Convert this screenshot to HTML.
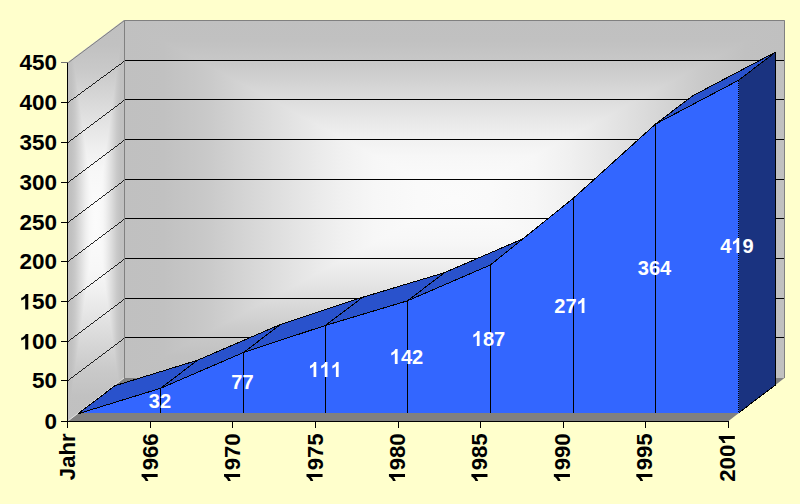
<!DOCTYPE html>
<html><head><meta charset="utf-8"><title>Chart</title>
<style>
html,body{margin:0;padding:0;}
body{width:800px;height:504px;background:#FFFFCC;overflow:hidden;font-family:"Liberation Sans",sans-serif;}
svg{display:block;}
text{font-family:"Liberation Sans",sans-serif;font-weight:bold;font-size:100px;font-kerning:none;}
</style></head><body>
<svg width="800" height="504" viewBox="0 0 800 504">
<defs>
<linearGradient id="gl" x1="0" y1="0" x2="1" y2="0"><stop offset="0" stop-color="#C0C0C0"/><stop offset="0.06" stop-color="#C1C1C1"/><stop offset="0.125" stop-color="#C9C9C9"/><stop offset="0.225" stop-color="#DDDDDD"/><stop offset="0.275" stop-color="#E7E7E7"/><stop offset="0.325" stop-color="#F0F0F0"/><stop offset="0.38" stop-color="#F7F7F7"/><stop offset="0.445" stop-color="#FAFAFA"/><stop offset="0.5" stop-color="#FBFBFB"/><stop offset="0.555" stop-color="#FAFAFA"/><stop offset="0.62" stop-color="#F7F7F7"/><stop offset="0.675" stop-color="#F0F0F0"/><stop offset="0.725" stop-color="#E7E7E7"/><stop offset="0.775" stop-color="#DDDDDD"/><stop offset="0.875" stop-color="#C9C9C9"/><stop offset="0.94" stop-color="#C1C1C1"/><stop offset="1" stop-color="#C0C0C0"/></linearGradient>
<linearGradient id="gt" x1="0" y1="0" x2="0" y2="1"><stop offset="0" stop-color="#C0C0C0"/><stop offset="0.12" stop-color="#C1C1C1"/><stop offset="0.25" stop-color="#C9C9C9"/><stop offset="0.45" stop-color="#DDDDDD"/><stop offset="0.55" stop-color="#E7E7E7"/><stop offset="0.65" stop-color="#F0F0F0"/><stop offset="0.76" stop-color="#F7F7F7"/><stop offset="0.89" stop-color="#FAFAFA"/><stop offset="1" stop-color="#FBFBFB"/></linearGradient>
<linearGradient id="gb" x1="0" y1="1" x2="0" y2="0"><stop offset="0" stop-color="#C0C0C0"/><stop offset="0.12" stop-color="#C1C1C1"/><stop offset="0.25" stop-color="#C9C9C9"/><stop offset="0.45" stop-color="#DDDDDD"/><stop offset="0.55" stop-color="#E7E7E7"/><stop offset="0.65" stop-color="#F0F0F0"/><stop offset="0.76" stop-color="#F7F7F7"/><stop offset="0.89" stop-color="#FAFAFA"/><stop offset="1" stop-color="#FBFBFB"/></linearGradient>
<clipPath id="lwc"><polygon points="68,62 124,20 124,378 68,421"/></clipPath>
</defs>
<rect width="800" height="504" fill="#FFFFCC"/>

<g id="backwall">
<rect x="124" y="20" width="661" height="358" fill="url(#gl)"/>
<polygon points="124.0,20.0 785.0,20.0 454.5,199.0" fill="url(#gt)"/>
<polygon points="124.0,378.0 785.0,378.0 454.5,199.0" fill="url(#gb)"/>
</g>
<g id="leftwall" clip-path="url(#lwc)">
<rect x="68" y="20" width="56" height="401" fill="url(#gl)"/>
<polygon points="68.0,20.0 124.0,20.0 96.0,220.5" fill="url(#gt)"/>
<polygon points="68.0,421.0 124.0,421.0 96.0,220.5" fill="url(#gb)"/>
</g>
<polygon points="68.0,421.0 728.5,421.0 784.5,378.0 124.0,378.0" fill="#808080"/>
<line x1="68.5" y1="420.5" x2="124" y2="378" stroke="#E4E4E4" stroke-width="1"/>
<g stroke="#000" stroke-width="1" fill="none" shape-rendering="crispEdges">
<path d="M124 337.5 L785 337.5"/>
<path d="M68 380.5 L124 338.5" stroke-width="0.85"/>
<path d="M124 298.5 L785 298.5"/>
<path d="M68 341.5 L124 299.5" stroke-width="0.85"/>
<path d="M124 258.5 L785 258.5"/>
<path d="M68 301.5 L124 259.5" stroke-width="0.85"/>
<path d="M124 218.5 L785 218.5"/>
<path d="M68 261.5 L124 219.5" stroke-width="0.85"/>
<path d="M124 179.5 L785 179.5"/>
<path d="M68 222.5 L124 180.5" stroke-width="0.85"/>
<path d="M124 139.5 L785 139.5"/>
<path d="M68 182.5 L124 140.5" stroke-width="0.85"/>
<path d="M124 99.5 L785 99.5"/>
<path d="M68 142.5 L124 100.5" stroke-width="0.85"/>
<path d="M124 60.5 L785 60.5"/>
<path d="M68 102.5 L124 61.5" stroke-width="0.85"/>
</g>
<g stroke="#808080" stroke-width="1" fill="none">
<path d="M124.5 378 V20.5 H784.5 V378"/>
<path d="M68.5 62.5 L124.5 20.5"/>
</g>
<g stroke="#000" stroke-width="1" stroke-linejoin="round" shape-rendering="crispEdges">
<polygon points="77.9,413.8 160.5,388.3 197.6,360.2 115.0,385.7" fill="#2952CC"/>
<polygon points="160.5,388.3 243.5,352.5 280.6,324.4 197.6,360.2" fill="#2952CC"/>
<polygon points="243.5,352.5 325.5,325.4 362.6,297.3 280.6,324.4" fill="#2952CC"/>
<polygon points="325.5,325.4 407.5,300.8 444.6,272.6 362.6,297.3" fill="#2952CC"/>
<polygon points="407.5,300.8 490.5,264.9 527.5,236.8 444.6,272.6" fill="#2952CC"/>
<polygon points="490.5,264.9 573.5,198.1 610.5,169.9 527.5,236.8" fill="#2952CC"/>
<polygon points="573.5,198.1 655.5,124.1 692.5,95.9 610.5,169.9" fill="#2952CC"/>
<polygon points="655.5,124.1 738.5,80.3 775.5,52.1 692.5,95.9" fill="#2952CC"/>
<polygon points="738.5,80.3 775.5,52.1 775.5,384.9 738.5,413.0" fill="#1A3380" stroke="none"/>
<polyline points="738.5,80.3 775.5,52.1 775.5,384.9 738.5,413.0" fill="none"/>
<polygon points="77.9,413.8 160.5,388.3 243.5,352.5 325.5,325.4 407.5,300.8 490.5,264.9 573.5,198.1 655.5,124.1 738.5,80.3 738.5,413.0 77.9,413.0" fill="#3366FF" stroke="none"/>
<polyline points="77.9,413.8 160.5,388.3 243.5,352.5 325.5,325.4 407.5,300.8 490.5,264.9 573.5,198.1 655.5,124.1 738.5,80.3" fill="none"/>
<line x1="738.5" y1="81.0" x2="738.5" y2="413.0" stroke-dasharray="1 1" stroke-width="1"/>
<line x1="160.5" y1="388.3" x2="160.5" y2="413.0" stroke-width="1"/>
<line x1="243.5" y1="352.5" x2="243.5" y2="413.0" stroke-width="1"/>
<line x1="325.5" y1="325.4" x2="325.5" y2="413.0" stroke-width="1"/>
<line x1="407.5" y1="300.8" x2="407.5" y2="413.0" stroke-width="1"/>
<line x1="490.5" y1="264.9" x2="490.5" y2="413.0" stroke-width="1"/>
<line x1="573.5" y1="198.1" x2="573.5" y2="413.0" stroke-width="1"/>
<line x1="655.5" y1="124.1" x2="655.5" y2="413.0" stroke-width="1"/>
</g>
<g stroke="#000" stroke-width="1" shape-rendering="crispEdges">
<line x1="67.5" y1="62" x2="67.5" y2="422"/>
<line x1="67" y1="421.5" x2="729" y2="421.5"/>
<line x1="61" y1="421.5" x2="68" y2="421.5"/>
<line x1="61" y1="380.5" x2="68" y2="380.5"/>
<line x1="61" y1="341.5" x2="68" y2="341.5"/>
<line x1="61" y1="301.5" x2="68" y2="301.5"/>
<line x1="61" y1="261.5" x2="68" y2="261.5"/>
<line x1="61" y1="222.5" x2="68" y2="222.5"/>
<line x1="61" y1="182.5" x2="68" y2="182.5"/>
<line x1="61" y1="142.5" x2="68" y2="142.5"/>
<line x1="61" y1="102.5" x2="68" y2="102.5"/>
<line x1="61" y1="62.5" x2="68" y2="62.5" stroke="#707070"/>
<line x1="67.5" y1="421" x2="67.5" y2="428"/>
<line x1="150.5" y1="421" x2="150.5" y2="428"/>
<line x1="232.5" y1="421" x2="232.5" y2="428"/>
<line x1="315.5" y1="421" x2="315.5" y2="428"/>
<line x1="398.5" y1="421" x2="398.5" y2="428"/>
<line x1="480.5" y1="421" x2="480.5" y2="428"/>
<line x1="563.5" y1="421" x2="563.5" y2="428"/>
<line x1="645.5" y1="421" x2="645.5" y2="428"/>
<line x1="728.5" y1="421" x2="728.5" y2="428"/>
</g>
<g transform="translate(57.00 429.40) scale(0.2248 0.2150)" fill="#000"><text x="-55.62" y="0">0</text></g>
<g transform="translate(57.00 388.40) scale(0.2248 0.2150)" fill="#000"><text x="-111.23" y="0">5</text><text x="-55.62" y="0">0</text></g>
<g transform="translate(57.00 349.40) scale(0.2248 0.2150)" fill="#000"><path transform="translate(-166.85 0) scale(0.048828 -0.048828)" d="M801 0H520V1059Q366 915 157 846V1101Q267 1137 396 1237.5T573 1472H801Z"/><text x="-111.23" y="0">0</text><text x="-55.62" y="0">0</text></g>
<g transform="translate(57.00 309.40) scale(0.2248 0.2150)" fill="#000"><path transform="translate(-166.85 0) scale(0.048828 -0.048828)" d="M801 0H520V1059Q366 915 157 846V1101Q267 1137 396 1237.5T573 1472H801Z"/><text x="-111.23" y="0">5</text><text x="-55.62" y="0">0</text></g>
<g transform="translate(57.00 269.40) scale(0.2248 0.2150)" fill="#000"><text x="-166.85" y="0">2</text><text x="-111.23" y="0">0</text><text x="-55.62" y="0">0</text></g>
<g transform="translate(57.00 230.40) scale(0.2248 0.2150)" fill="#000"><text x="-166.85" y="0">2</text><text x="-111.23" y="0">5</text><text x="-55.62" y="0">0</text></g>
<g transform="translate(57.00 190.40) scale(0.2248 0.2150)" fill="#000"><text x="-166.85" y="0">3</text><text x="-111.23" y="0">0</text><text x="-55.62" y="0">0</text></g>
<g transform="translate(57.00 150.40) scale(0.2248 0.2150)" fill="#000"><text x="-166.85" y="0">3</text><text x="-111.23" y="0">5</text><text x="-55.62" y="0">0</text></g>
<g transform="translate(57.00 110.40) scale(0.2248 0.2150)" fill="#000"><text x="-166.85" y="0">4</text><text x="-111.23" y="0">0</text><text x="-55.62" y="0">0</text></g>
<g transform="translate(57.00 70.40) scale(0.2248 0.2150)" fill="#000"><text x="-166.85" y="0">4</text><text x="-111.23" y="0">5</text><text x="-55.62" y="0">0</text></g>
<g transform="translate(75.20 433.30) rotate(-90) scale(0.2221 0.2238)" fill="#000"><text x="-211.23" y="0">J</text><text x="-155.62" y="0">a</text><text x="-100.00" y="0">h</text><text x="-38.92" y="0">r</text></g>
<g transform="translate(157.66 433.30) rotate(-90) scale(0.2221 0.2238)" fill="#000"><path transform="translate(-222.46 0) scale(0.048828 -0.048828)" d="M801 0H520V1059Q366 915 157 846V1101Q267 1137 396 1237.5T573 1472H801Z"/><text x="-166.85" y="0">9</text><text x="-111.23" y="0">6</text><text x="-55.62" y="0">6</text></g>
<g transform="translate(240.11 433.30) rotate(-90) scale(0.2221 0.2238)" fill="#000"><path transform="translate(-222.46 0) scale(0.048828 -0.048828)" d="M801 0H520V1059Q366 915 157 846V1101Q267 1137 396 1237.5T573 1472H801Z"/><text x="-166.85" y="0">9</text><text x="-111.23" y="0">7</text><text x="-55.62" y="0">0</text></g>
<g transform="translate(322.56 433.30) rotate(-90) scale(0.2221 0.2238)" fill="#000"><path transform="translate(-222.46 0) scale(0.048828 -0.048828)" d="M801 0H520V1059Q366 915 157 846V1101Q267 1137 396 1237.5T573 1472H801Z"/><text x="-166.85" y="0">9</text><text x="-111.23" y="0">7</text><text x="-55.62" y="0">5</text></g>
<g transform="translate(405.02 433.30) rotate(-90) scale(0.2221 0.2238)" fill="#000"><path transform="translate(-222.46 0) scale(0.048828 -0.048828)" d="M801 0H520V1059Q366 915 157 846V1101Q267 1137 396 1237.5T573 1472H801Z"/><text x="-166.85" y="0">9</text><text x="-111.23" y="0">8</text><text x="-55.62" y="0">0</text></g>
<g transform="translate(487.47 433.30) rotate(-90) scale(0.2221 0.2238)" fill="#000"><path transform="translate(-222.46 0) scale(0.048828 -0.048828)" d="M801 0H520V1059Q366 915 157 846V1101Q267 1137 396 1237.5T573 1472H801Z"/><text x="-166.85" y="0">9</text><text x="-111.23" y="0">8</text><text x="-55.62" y="0">5</text></g>
<g transform="translate(569.93 433.30) rotate(-90) scale(0.2221 0.2238)" fill="#000"><path transform="translate(-222.46 0) scale(0.048828 -0.048828)" d="M801 0H520V1059Q366 915 157 846V1101Q267 1137 396 1237.5T573 1472H801Z"/><text x="-166.85" y="0">9</text><text x="-111.23" y="0">9</text><text x="-55.62" y="0">0</text></g>
<g transform="translate(652.38 433.30) rotate(-90) scale(0.2221 0.2238)" fill="#000"><path transform="translate(-222.46 0) scale(0.048828 -0.048828)" d="M801 0H520V1059Q366 915 157 846V1101Q267 1137 396 1237.5T573 1472H801Z"/><text x="-166.85" y="0">9</text><text x="-111.23" y="0">9</text><text x="-55.62" y="0">5</text></g>
<g transform="translate(734.84 432.40) rotate(-90) scale(0.2221 0.2238)" fill="#000"><text x="-222.46" y="0">2</text><text x="-166.85" y="0">0</text><text x="-111.23" y="0">0</text><path transform="translate(-55.62 0) scale(0.048828 -0.048828)" d="M801 0H520V1059Q366 915 157 846V1101Q267 1137 396 1237.5T573 1472H801Z"/></g>
<g transform="translate(160.00 408.00) scale(0.2010 0.2070)" fill="#fff"><text x="-55.62" y="0">3</text><text x="0.00" y="0">2</text></g>
<g transform="translate(242.50 389.00) scale(0.2010 0.2070)" fill="#fff"><text x="-55.62" y="0">7</text><text x="0.00" y="0">7</text></g>
<g transform="translate(325.20 377.00) scale(0.2010 0.2070)" fill="#fff"><path transform="translate(-83.42 0) scale(0.048828 -0.048828)" d="M801 0H520V1059Q366 915 157 846V1101Q267 1137 396 1237.5T573 1472H801Z"/><path transform="translate(-27.81 0) scale(0.048828 -0.048828)" d="M801 0H520V1059Q366 915 157 846V1101Q267 1137 396 1237.5T573 1472H801Z"/><path transform="translate(27.81 0) scale(0.048828 -0.048828)" d="M801 0H520V1059Q366 915 157 846V1101Q267 1137 396 1237.5T573 1472H801Z"/></g>
<g transform="translate(406.50 364.00) scale(0.2010 0.2070)" fill="#fff"><path transform="translate(-83.42 0) scale(0.048828 -0.048828)" d="M801 0H520V1059Q366 915 157 846V1101Q267 1137 396 1237.5T573 1472H801Z"/><text x="-27.81" y="0">4</text><text x="27.81" y="0">2</text></g>
<g transform="translate(488.50 346.00) scale(0.2010 0.2070)" fill="#fff"><path transform="translate(-83.42 0) scale(0.048828 -0.048828)" d="M801 0H520V1059Q366 915 157 846V1101Q267 1137 396 1237.5T573 1472H801Z"/><text x="-27.81" y="0">8</text><text x="27.81" y="0">7</text></g>
<g transform="translate(571.00 313.00) scale(0.2010 0.2070)" fill="#fff"><text x="-83.42" y="0">2</text><text x="-27.81" y="0">7</text><path transform="translate(27.81 0) scale(0.048828 -0.048828)" d="M801 0H520V1059Q366 915 157 846V1101Q267 1137 396 1237.5T573 1472H801Z"/></g>
<g transform="translate(654.50 275.00) scale(0.2010 0.2070)" fill="#fff"><text x="-83.42" y="0">3</text><text x="-27.81" y="0">6</text><text x="27.81" y="0">4</text></g>
<g transform="translate(737.00 253.00) scale(0.2010 0.2070)" fill="#fff"><text x="-83.42" y="0">4</text><path transform="translate(-27.81 0) scale(0.048828 -0.048828)" d="M801 0H520V1059Q366 915 157 846V1101Q267 1137 396 1237.5T573 1472H801Z"/><text x="27.81" y="0">9</text></g>
</svg></body></html>
